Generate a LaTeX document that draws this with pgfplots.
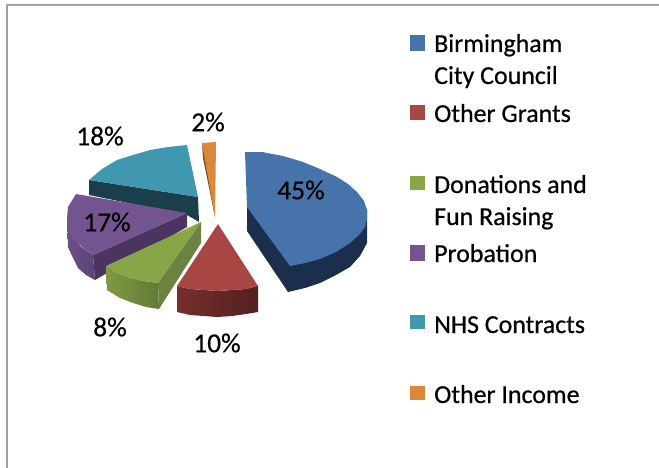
\documentclass[border=0pt]{standalone}
\usepackage{fontspec}
\setmainfont{Carlito}[FakeBold=0.5]
\usepackage{pgfplots}
\pgfplotsset{compat=1.18}
\definecolor{cblue}{HTML}{4674AA}
\definecolor{cblueS}{HTML}{1B2F4C}
\definecolor{cred}{HTML}{A84644}
\definecolor{credA}{HTML}{742F2D}
\definecolor{credB}{HTML}{532120}
\definecolor{cgreen}{HTML}{88A548}
\definecolor{cgreenA}{HTML}{7F9A44}
\definecolor{cgreenB}{HTML}{637A36}
\definecolor{cgreenC}{HTML}{6B8240}
\definecolor{cpurple}{HTML}{735491}
\definecolor{cpurpleA}{HTML}{5A4277}
\definecolor{cpurpleB}{HTML}{6E5089}
\definecolor{cpurpleC}{HTML}{4A3560}
\definecolor{cteal}{HTML}{3F97B0}
\definecolor{ctealS}{HTML}{1A3F4B}
\definecolor{corange}{HTML}{DD873B}
\definecolor{cbrown}{HTML}{7E4A1A}
\definecolor{cframe}{HTML}{A0A0A0}
\tikzset{
  lab/.style={font=\fontsize{26}{26}\selectfont, anchor=base west, inner sep=0pt, text=black},
  pct/.style={font=\fontsize{27.5}{27.5}\selectfont, inner sep=0pt, text=black},
}
\begin{document}
\begin{tikzpicture}
\begin{axis}[
  name=ax,
  width=659bp, height=468bp, scale only axis,
  xmin=0, xmax=659, ymin=0, ymax=468, y dir=reverse,
  hide axis, clip=false,
  every axis plot/.append style={draw=none, mark=none, line join=round},
]
% frame
\addplot[draw=cframe, line width=1.8pt] coordinates {(7,468) (7,5) (659,5)};
% teal
\addplot[fill=ctealS] coordinates {(89,180) (89,195) (187,215) (199,222) (198,197)} -- cycle;
\addplot[fill=cteal] coordinates {(198,197) (187,145) (168,147) (150,150) (133,155) (117,160) (102,169) (89,180)} -- cycle;
% orange
\addplot[fill=cbrown] coordinates {(202,143) (203,158) (215,217) (209,170)} -- cycle;
\addplot[fill=corange] coordinates {(202,143) (216,142) (215,217)} -- cycle;
% blue
\addplot[fill=cblueS] coordinates {(247,207) (247,231) (288,292) (305,288) (320,283) (336,275) (350,267) (360,256) (367,243) (367,210)} -- cycle;
\addplot[fill=cblue] coordinates {(245,152) (262,152) (283,156) (303,162) (320,169) (337,177) (348,184) (357,192) (364,201) (367,210) (367,219) (365,227) (359,235) (350,243) (336,252) (320,259) (305,263) (290,266) (247,207)} -- cycle;
% purple
\addplot[fill=cpurpleC] coordinates {(187,213) (187,227) (95,280) (93,255)} -- cycle;
\addplot[left color=cpurpleB, right color=cpurpleA] coordinates {(67,218) (68,247) (72,256) (78,268) (86,275) (95,280) (93,255) (80,246) (72,235)} -- cycle;
\addplot[fill=cpurple] coordinates {(76,194) (187,213) (93,255) (82,247) (73,239) (68,229) (67,218) (68,207)} -- cycle;
% green
\addplot[fill=cgreenC] coordinates {(201,222) (201,243) (159,309) (158,283)} -- cycle;
\addplot[left color=cgreenA, right color=cgreenB] coordinates {(106,266) (107,290) (120,298) (133,303) (146,307) (159,309) (158,283) (144,281) (130,278) (117,273)} -- cycle;
\addplot[fill=cgreen] coordinates {(201,222) (106,266) (117,273) (130,278) (144,281) (158,283)} -- cycle;
% red
\addplot[left color=credA, right color=credB] coordinates {(177,286) (177,312) (190,315) (204,316) (217,317) (232,316) (246,314) (258,312) (258,286) (246,289) (232,290) (217,291) (204,290) (190,289)} -- cycle;
\addplot[fill=cred] coordinates {(218,224) (258,286) (246,289) (232,290) (217,291) (204,290) (190,289) (177,286)} -- cycle;
% legend swatches
\addplot[fill=cblue] coordinates {(410,35) (425,35) (425,51) (410,51)} -- cycle;
\addplot[fill=cred] coordinates {(410,105) (425,105) (425,120) (410,120)} -- cycle;
\addplot[fill=cgreen] coordinates {(410,176) (425,176) (425,190) (410,190)} -- cycle;
\addplot[fill=cpurple] coordinates {(410,245) (425,245) (425,261) (410,261)} -- cycle;
\addplot[fill=cteal] coordinates {(410,315) (425,315) (425,329) (410,329)} -- cycle;
\addplot[fill=corange] coordinates {(410,386) (425,386) (425,400) (410,400)} -- cycle;
% legend text
\node[lab] at (axis cs:434,52) {Birmingham};
\node[lab] at (axis cs:434,84) {City Council};
\node[lab] at (axis cs:434,122) {Other Grants};
\node[lab] at (axis cs:434,193) {Donations and};
\node[lab] at (axis cs:434,225) {Fun Raising};
\node[lab] at (axis cs:434,262) {Probation};
\node[lab] at (axis cs:434,333) {NHS Contracts};
\node[lab] at (axis cs:434,403) {Other Income};
% percent labels
\node[pct] at (axis cs:301,190) {45\%};
\node[pct] at (axis cs:217,343) {10\%};
\node[pct] at (axis cs:110,327) {8\%};
\node[pct] at (axis cs:107,222) {17\%};
\node[pct] at (axis cs:100,136) {18\%};
\node[pct] at (axis cs:208,122) {2\%};
\end{axis}
\pgfresetboundingbox
\path[use as bounding box] (ax.south west) rectangle (ax.north east);
\end{tikzpicture}
\end{document}
